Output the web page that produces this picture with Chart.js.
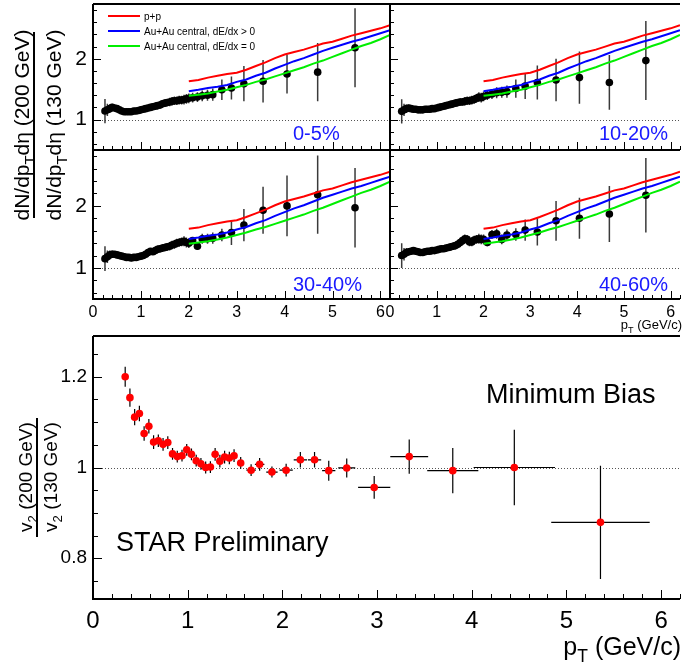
<!DOCTYPE html>
<html>
<head>
<meta charset="utf-8">
<script src="https://cdn.jsdelivr.net/npm/chart.js@4.4.0/dist/chart.umd.min.js"></script>
<style>
  body { margin: 0; background: #fff; }
  #wrap { position: relative; width: 684px; height: 666px; overflow: hidden; background: #fff; }
  #wrap canvas { position: absolute; left: 0; top: 0; }
</style>
</head>
<body>
<div id="wrap">
  <canvas id="c0005" width="684" height="666"></canvas>
  <canvas id="c1020" width="684" height="666"></canvas>
  <canvas id="c3040" width="684" height="666"></canvas>
  <canvas id="c4060" width="684" height="666"></canvas>
  <canvas id="cv2" width="684" height="666"></canvas>
</div>
<script>
// --- oben: Verhältnis der Spektren 200 GeV / 130 GeV, vier Zentralitäten ---
let ptBins = [0.25, 0.30, 0.35, 0.40, 0.45, 0.50, 0.55, 0.60, 0.65, 0.70,
  0.75, 0.80, 0.85, 0.90, 0.95, 1.00, 1.05, 1.10, 1.15, 1.20,
  1.25, 1.30, 1.35, 1.40, 1.45, 1.50, 1.55, 1.60, 1.65, 1.70,
  1.75, 1.80, 1.85, 1.90, 1.95, 2.00,
  2.08, 2.18, 2.28, 2.39, 2.50,
  2.69, 2.89, 3.15, 3.55, 4.05, 4.69, 5.47];

let ratio0005 = [1.14, 1.16, 1.18, 1.20, 1.19, 1.18, 1.16, 1.14, 1.13, 1.13,
  1.13, 1.13, 1.14, 1.14, 1.15, 1.16, 1.17, 1.18, 1.19, 1.20,
  1.21, 1.22, 1.23, 1.24, 1.26, 1.27, 1.28, 1.29, 1.30, 1.31,
  1.31, 1.32, 1.32, 1.33, 1.34, 1.35,
  1.36, 1.37, 1.39, 1.40, 1.41,
  1.49, 1.52, 1.59, 1.63, 1.75, 1.78, 2.18];
let ratio1020 = [1.135, 1.16, 1.18, 1.19, 1.18, 1.17, 1.17, 1.16, 1.16, 1.16,
  1.17, 1.17, 1.17, 1.18, 1.18, 1.19, 1.20, 1.21, 1.22, 1.23,
  1.24, 1.25, 1.26, 1.27, 1.28, 1.29, 1.29, 1.30, 1.31, 1.31,
  1.32, 1.33, 1.35, 1.37, 1.36, 1.38,
  1.40, 1.42, 1.44, 1.45, 1.46,
  1.51, 1.55, 1.61, 1.65, 1.69, 1.61, 1.97];
let ratio3040 = [1.15, 1.18, 1.21, 1.22, 1.22, 1.21, 1.20, 1.19, 1.18, 1.17,
  1.17, 1.16, 1.17, 1.17, 1.18, 1.19, 1.20, 1.22, 1.25, 1.27,
  1.26, 1.28, 1.30, 1.31, 1.32, 1.33, 1.34, 1.35, 1.37, 1.38,
  1.40, 1.41, 1.42, 1.43, 1.41, 1.40,
  1.44, 1.35, 1.47, 1.47, 1.48,
  1.53, 1.57, 1.69, 1.93, 2.00, 2.18, 1.97];
let ratio4060 = [1.20, 1.22, 1.25, 1.26, 1.27, 1.28, 1.27, 1.26, 1.25, 1.25,
  1.26, 1.27, 1.27, 1.28, 1.28, 1.29, 1.30, 1.31, 1.31, 1.32,
  1.33, 1.34, 1.35, 1.36, 1.38, 1.41, 1.44, 1.47, 1.46, 1.42,
  1.42, 1.45, 1.46, 1.47, 1.46, 1.46,
  1.41, 1.54, 1.55, 1.46, 1.53,
  1.54, 1.61, 1.58, 1.76, 1.80, 1.87, 2.17];

// Fehler: unterhalb 2 GeV/c für alle gleich, darüber je Zentralität
let errLowPt = [0.20, 0.10, 0.07, 0.06, 0.05, 0.05, 0.05, 0.05, 0.05, 0.05,
  0.05, 0.05, 0.05, 0.05, 0.05, 0.05, 0.05, 0.05, 0.05, 0.05,
  0.05, 0.06, 0.06, 0.06, 0.06, 0.06, 0.06, 0.07, 0.07, 0.07,
  0.07, 0.07, 0.07, 0.08, 0.08, 0.08];
let errHigh0005 = [0.08, 0.08, 0.09, 0.09, 0.10, 0.17, 0.19, 0.29, 0.35, 0.32, 0.48, 0.65];
let errHigh1020 = [0.08, 0.08, 0.09, 0.09, 0.10, 0.15, 0.21, 0.28, 0.35, 0.43, 0.45, 0.65];
let errHigh3040 = [0.06, 0.06, 0.08, 0.08, 0.09, 0.10, 0.20, 0.26, 0.38, 0.49, 0.63, 0.64];
let errHigh4060 = [0.06, 0.07, 0.08, 0.08, 0.09, 0.10, 0.17, 0.22, 0.32, 0.33, 0.45, 0.60];

// Modellkurven (in allen vier Panels gleich)
let modelPt = [2.0, 2.2, 2.4, 2.6, 2.8, 3.0, 3.2, 3.4, 3.6, 3.8, 4.0,
  4.2, 4.4, 4.6, 4.8, 5.0, 5.2, 5.4, 5.6, 5.8, 6.0, 6.2];
let modelPP = [1.63, 1.65, 1.69, 1.72, 1.75, 1.77, 1.82, 1.88, 1.94, 2.01, 2.07,
  2.11, 2.15, 2.20, 2.25, 2.28, 2.33, 2.38, 2.42, 2.46, 2.50, 2.55];
let modelDedx = [1.465, 1.49, 1.52, 1.54, 1.57, 1.62, 1.66, 1.72, 1.77, 1.84, 1.90,
  1.96, 2.01, 2.07, 2.13, 2.18, 2.23, 2.28, 2.32, 2.37, 2.42, 2.47];
let modelNoDedx = [1.39, 1.41, 1.43, 1.46, 1.49, 1.53, 1.57, 1.62, 1.66, 1.71, 1.76,
  1.81, 1.86, 1.92, 1.97, 2.03, 2.09, 2.15, 2.21, 2.26, 2.32, 2.39];

let legendLabels = ['p+p', 'Au+Au central, dE/dx > 0', 'Au+Au central, dE/dx = 0'];
let centralities = ['0-5%', '10-20%', '30-40%', '40-60%'];

// --- unten: v2-Verhältnis, Minimum Bias ---
let v2Pt = [0.34, 0.39, 0.44, 0.49, 0.54, 0.59, 0.64, 0.69, 0.74, 0.79,
  0.84, 0.89, 0.94, 0.99, 1.04, 1.09, 1.14, 1.19, 1.24, 1.29,
  1.34, 1.39, 1.44, 1.49, 1.56, 1.67, 1.76, 1.89, 2.04, 2.19,
  2.34, 2.49, 2.68, 2.97, 3.34, 3.80, 4.45, 5.36];
let v2Ratio = [1.200, 1.154, 1.111, 1.119, 1.075, 1.091, 1.056, 1.059, 1.051, 1.055,
  1.030, 1.024, 1.026, 1.039, 1.029, 1.015, 1.008, 1.000, 1.001, 1.029,
  1.014, 1.023, 1.021, 1.026, 1.010, 0.994, 1.007, 0.990, 0.994, 1.017,
  1.017, 0.993, 0.999, 0.956, 1.024, 0.993, 1.000, 0.879];
let v2ErrY = [0.022, 0.020, 0.018, 0.017, 0.016, 0.016, 0.015, 0.014, 0.014, 0.014,
  0.013, 0.013, 0.013, 0.013, 0.013, 0.013, 0.013, 0.013, 0.013, 0.014,
  0.014, 0.014, 0.014, 0.014, 0.013, 0.013, 0.014, 0.012, 0.014, 0.017,
  0.017, 0.022, 0.021, 0.025, 0.038, 0.050, 0.083, 0.125];
let v2ErrX = [0.025, 0.025, 0.025, 0.025, 0.025, 0.025, 0.025, 0.025, 0.025, 0.025,
  0.025, 0.025, 0.025, 0.025, 0.025, 0.025, 0.025, 0.025, 0.025, 0.025,
  0.025, 0.025, 0.025, 0.025, 0.03, 0.05, 0.05, 0.06, 0.07, 0.07,
  0.07, 0.07, 0.09, 0.17, 0.20, 0.27, 0.43, 0.52];

let ptTicks = [0, 1, 2, 3, 4, 5, 6];
let spectraTicks = [1, 2];
let v2Ticks = [0.8, 1, 1.2];

const W = 684, H = 666;
const FONT = "'Liberation Sans', Arial, sans-serif";

// Text mit Subskripten zeichnen: Teile sind Strings oder [text] für tiefgestellt
function drawRich(ctx, parts, x, y, size, align, angle) {
  ctx.save();
  ctx.translate(x, y);
  if (angle) ctx.rotate(angle);
  let total = 0;
  let pieces = parts.map(p => {
    let sub = Array.isArray(p);
    let t = sub ? p[0] : p;
    let fs = sub ? size * 0.7 : size;
    ctx.font = fs + 'px ' + FONT;
    let w = ctx.measureText(t).width;
    total += w;
    return { t, fs, w, dy: sub ? size * 0.28 : 0 };
  });
  let cx = align === 'center' ? -total / 2 : align === 'right' ? -total : 0;
  ctx.textAlign = 'left';
  ctx.textBaseline = 'alphabetic';
  pieces.forEach(p => {
    ctx.font = p.fs + 'px ' + FONT;
    ctx.fillText(p.t, cx, p.dy);
    cx += p.w;
  });
  ctx.restore();
}

// ROOT-artiger Rahmen: gepunktete Linie bei 1, Fehlerbalken, Ticks nach innen, Texte
const rootStyle = {
  id: 'rootStyle',
  beforeDatasetsDraw(chart) {
    let { ctx, chartArea: a, scales: { y } } = chart;
    let py = Math.round(y.getPixelForValue(1)) + 0.5;
    ctx.save();
    ctx.strokeStyle = '#555';
    ctx.lineWidth = 1;
    ctx.setLineDash([1, 2]);
    ctx.beginPath();
    ctx.moveTo(a.left, py);
    ctx.lineTo(a.right, py);
    ctx.stroke();
    ctx.restore();
  },
  beforeDatasetDraw(chart, args) {
    let ds = chart.data.datasets[args.index];
    if (!ds.errorBars) return;
    let { ctx, chartArea: a, scales: { x, y } } = chart;
    ctx.save();
    ctx.beginPath();
    ctx.rect(a.left, a.top, a.right - a.left, a.bottom - a.top);
    ctx.clip();
    ctx.strokeStyle = ds.errorColor;
    ctx.lineWidth = ds.errorWidth;
    ctx.beginPath();
    ds.data.forEach(p => {
      let px = x.getPixelForValue(p.x), py = y.getPixelForValue(p.y);
      if (p.ey) { ctx.moveTo(px, y.getPixelForValue(p.y - p.ey)); ctx.lineTo(px, y.getPixelForValue(p.y + p.ey)); }
      if (p.ex) { ctx.moveTo(x.getPixelForValue(p.x - p.ex), py); ctx.lineTo(x.getPixelForValue(p.x + p.ex), py); }
    });
    ctx.stroke();
    ctx.restore();
  },
  afterDraw(chart, args, o) {
    let { ctx, chartArea: a, scales: { x, y } } = chart;
    ctx.save();
    ctx.strokeStyle = '#000';
    ctx.lineWidth = 2;
    ctx.beginPath();
    ctx.moveTo(a.left, a.top); ctx.lineTo(a.left, a.bottom); ctx.lineTo(a.right, a.bottom);
    ctx.moveTo(a.left, a.top); ctx.lineTo(a.right, a.top);
    if (o.rightBorder) { ctx.moveTo(a.right, a.top); ctx.lineTo(a.right, a.bottom); }
    ctx.stroke();
    // Ticks nach innen
    ctx.lineWidth = 1;
    ctx.beginPath();
    for (let i = Math.ceil(x.min / o.xMinor - 1e-6); i * o.xMinor <= x.max + 1e-6; i++) {
      let v = i * o.xMinor;
      let major = Math.abs(v / o.xMajor - Math.round(v / o.xMajor)) < 1e-6;
      let px = Math.round(x.getPixelForValue(v)) + 0.5;
      ctx.moveTo(px, a.bottom);
      ctx.lineTo(px, a.bottom - (major ? o.majLen : o.minLen));
    }
    for (let i = Math.ceil(y.min / o.yMinor - 1e-6); i * o.yMinor <= y.max + 1e-6; i++) {
      let v = i * o.yMinor;
      let major = Math.abs(v / o.yMajor - Math.round(v / o.yMajor)) < 1e-6;
      let py = Math.round(y.getPixelForValue(v)) + 0.5;
      ctx.moveTo(a.left, py);
      ctx.lineTo(a.left + (major ? o.majLen : o.minLen), py);
    }
    ctx.stroke();
    ctx.restore();
    if (o.extra) o.extra(chart, ctx);
  }
};

function axisTicks(values) {
  return s => { s.ticks = values.map(v => ({ value: v })); };
}

// Achsengrösse fest vorgeben, Randabstände der Beschriftung ignorieren
function fixWidth(w) {
  return s => { s.width = w; s.paddingTop = 0; s.paddingBottom = 0; };
}
function fixHeight(h) {
  return s => { s.height = h; s.paddingLeft = 0; s.paddingRight = 0; };
}

function makePanel(id, box, values, errors, label, labelPos, opt) {
  let points = ptBins.map((pt, i) => ({ x: pt, y: values[i], ey: errors[i] }));
  let curves = [modelPP, modelDedx, modelNoDedx].map((arr, k) => ({
    label: legendLabels[k],
    data: modelPt.map((pt, i) => ({ x: pt, y: arr[i] })),
    showLine: true, borderColor: ['#ff0000', '#0000ff', '#00ee00'][k],
    borderWidth: 2, pointRadius: 0, order: 1
  }));
  return new Chart(document.getElementById(id), {
    type: 'scatter',
    data: {
      datasets: [{
        label: label, data: points, backgroundColor: '#000', borderWidth: 0,
        pointRadius: 3.8, errorBars: true, errorColor: '#3a3a3a', errorWidth: 1.5, order: 2
      }, ...curves]
    },
    options: {
      responsive: false, animation: false, events: [],
      layout: { padding: { top: box.top, right: W - box.right, left: 0, bottom: 0 } },
      plugins: {
        legend: { display: false }, tooltip: { enabled: false },
        rootStyle: {
          xMinor: 0.2, xMajor: 1, yMinor: 0.2, yMajor: 1, majLen: 8, minLen: 4,
          rightBorder: opt.rightBorder,
          extra(chart, ctx) {
            ctx.fillStyle = '#1a1aff';
            drawRich(ctx, [label], labelPos[0], labelPos[1], 20, 'left');
            if (opt.extra) opt.extra(chart, ctx);
          }
        }
      },
      scales: {
        x: {
          type: 'linear', min: 0, max: 6.2,
          afterFit: fixHeight(H - box.bottom),
          afterBuildTicks: axisTicks(ptTicks),
          grid: { display: false, drawTicks: false }, border: { display: false },
          ticks: { display: opt.xLabels, color: '#000', font: { family: FONT, size: 16 }, padding: 4,
            autoSkip: false, maxRotation: 0, callback: v => String(v) }
        },
        y: {
          type: 'linear', min: 0.5, max: 2.9,
          afterFit: fixWidth(box.left),
          afterBuildTicks: axisTicks(spectraTicks),
          grid: { display: false, drawTicks: false }, border: { display: false },
          ticks: { display: opt.yLabels, color: '#000', font: { family: FONT, size: 21 }, padding: 6,
            autoSkip: false, callback: v => String(v) }
        }
      }
    },
    plugins: [rootStyle]
  });
}

// Panel 0-5% mit Legende und y-Achsentitel
makePanel('c0005', { left: 93, top: 2, right: 390, bottom: 150 }, ratio0005,
  errLowPt.concat(errHigh0005), centralities[0], [293, 140], {
    xLabels: false, yLabels: true, rightBorder: true,
    extra(chart, ctx) {
      let rows = [16, 31, 46];
      chart.data.datasets.slice(1).forEach((ds, k) => {
        ctx.strokeStyle = ds.borderColor;
        ctx.lineWidth = 2;
        ctx.beginPath();
        ctx.moveTo(108, rows[k]);
        ctx.lineTo(140, rows[k]);
        ctx.stroke();
        ctx.fillStyle = '#000';
        drawRich(ctx, [ds.label], 144, rows[k] + 3.5, 10, 'left');
      });
      ctx.fillStyle = '#000';
      drawRich(ctx, ['dN/dp', ['T'], 'd\u03b7 (200 GeV)'], 29, 125, 21, 'center', -Math.PI / 2);
      drawRich(ctx, ['dN/dp', ['T'], 'd\u03b7 (130 GeV)'], 61, 125, 21, 'center', -Math.PI / 2);
      ctx.fillRect(33, 32, 2, 186);
    }
  });
makePanel('c1020', { left: 390, top: 2, right: 684, bottom: 150 }, ratio1020,
  errLowPt.concat(errHigh1020), centralities[1], [599, 140],
  { xLabels: false, yLabels: false, rightBorder: false });
makePanel('c3040', { left: 93, top: 150, right: 390, bottom: 299 }, ratio3040,
  errLowPt.concat(errHigh3040), centralities[2], [293, 291],
  { xLabels: true, yLabels: true, rightBorder: true });
makePanel('c4060', { left: 390, top: 150, right: 684, bottom: 299 }, ratio4060,
  errLowPt.concat(errHigh4060), centralities[3], [599, 291], {
    xLabels: true, yLabels: false, rightBorder: false,
    extra(chart, ctx) {
      ctx.fillStyle = '#000';
      drawRich(ctx, ['p', ['T'], ' (GeV/c)'], 682, 329, 13, 'right');
    }
  });

// unteres Diagramm: v2(200)/v2(130)
new Chart(document.getElementById('cv2'), {
  type: 'scatter',
  data: {
    datasets: [{
      label: 'Minimum Bias',
      data: v2Pt.map((pt, i) => ({ x: pt, y: v2Ratio[i], ex: v2ErrX[i], ey: v2ErrY[i] })),
      backgroundColor: '#ff0000', borderWidth: 0, pointRadius: 3.8,
      errorBars: true, errorColor: '#000', errorWidth: 1.2
    }]
  },
  options: {
    responsive: false, animation: false, events: [],
    layout: { padding: { top: 336, right: W - 683, left: 0, bottom: 0 } },
    plugins: {
      legend: { display: false }, tooltip: { enabled: false },
      rootStyle: {
        xMinor: 0.2, xMajor: 1, yMinor: 0.05, yMajor: 0.2, majLen: 9, minLen: 5,
        rightBorder: false,
        extra(chart, ctx) {
          ctx.fillStyle = '#000';
          drawRich(ctx, ['Minimum Bias'], 486, 403, 27, 'left');
          drawRich(ctx, ['STAR Preliminary'], 116, 551, 27, 'left');
          drawRich(ctx, ['p', ['T'], ' (GeV/c)'], 681, 655, 25, 'right');
          drawRich(ctx, ['v', ['2'], ' (200 GeV)'], 32, 477, 19, 'center', -Math.PI / 2);
          drawRich(ctx, ['v', ['2'], ' (130 GeV)'], 57, 477, 19, 'center', -Math.PI / 2);
          ctx.fillRect(36, 418, 2, 119);
        }
      }
    },
    scales: {
      x: {
        type: 'linear', min: 0, max: 6.2,
        afterFit: fixHeight(H - 599),
        afterBuildTicks: axisTicks(ptTicks),
        grid: { display: false, drawTicks: false }, border: { display: false },
        ticks: { color: '#000', font: { family: FONT, size: 24 }, padding: 8,
          autoSkip: false, maxRotation: 0, callback: v => String(v) }
      },
      y: {
        type: 'linear', min: 0.71, max: 1.29,
        afterFit: fixWidth(93),
        afterBuildTicks: axisTicks(v2Ticks),
        grid: { display: false, drawTicks: false }, border: { display: false },
        ticks: { color: '#000', font: { family: FONT, size: 19 }, padding: 6,
          autoSkip: false, callback: v => String(v) }
      }
    }
  },
  plugins: [rootStyle]
});
</script>
</body>
</html>
